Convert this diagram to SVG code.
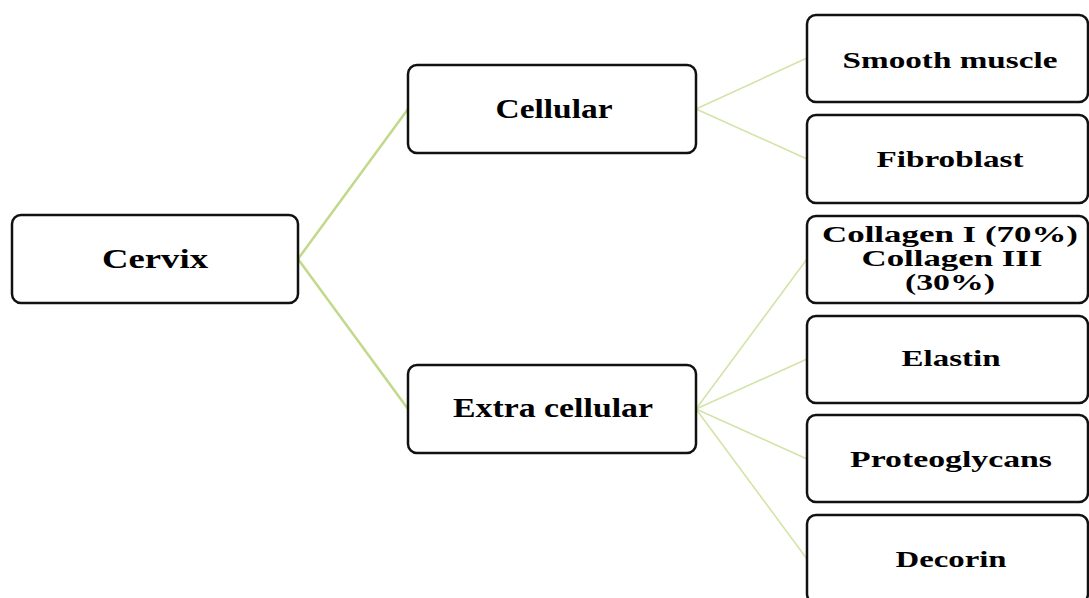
<svg xmlns="http://www.w3.org/2000/svg" width="1089" height="598" viewBox="0 0 1089 598">
<style>
.box{fill:#fff;stroke:#111;stroke-width:2.5}
.t{font-family:"Liberation Serif","Times New Roman",serif;font-weight:bold;fill:#000;text-anchor:middle}
.big{font-size:27px}
.sm{font-size:23px}
.c1{stroke:#c2d98a;stroke-width:2.5;fill:none}
.c2{stroke:#d3e4a8;stroke-width:1.6;fill:none}
</style>
<rect width="1089" height="598" fill="#fff"/>
<g id="connectors">
<line class="c1" x1="298" y1="259" x2="408" y2="109"/>
<line class="c1" x1="298" y1="259" x2="408" y2="409"/>
<line class="c2" x1="696" y1="109" x2="807" y2="58"/>
<line class="c2" x1="696" y1="109" x2="807" y2="159"/>
<line class="c2" x1="696" y1="409" x2="807" y2="259"/>
<line class="c2" x1="696" y1="409" x2="807" y2="359"/>
<line class="c2" x1="696" y1="409" x2="807" y2="459"/>
<line class="c2" x1="696" y1="409" x2="807" y2="559"/>
</g>
<g id="cervix"><rect class="box" x="12" y="215" width="286" height="88" rx="9"/><text class="t big" x="155" y="268" textLength="106" lengthAdjust="spacingAndGlyphs">Cervix</text></g>
<g id="cellular"><rect class="box" x="408" y="65" width="288" height="88" rx="9"/><text class="t big" x="554" y="118" textLength="117" lengthAdjust="spacingAndGlyphs">Cellular</text></g>
<g id="extracellular"><rect class="box" x="408" y="365" width="288" height="88" rx="9"/><text class="t big" x="553" y="417" textLength="200" lengthAdjust="spacingAndGlyphs">Extra cellular</text></g>
<g id="smooth"><rect class="box" x="807" y="15" width="281" height="87" rx="9"/><text class="t sm" x="950" y="68" textLength="215" lengthAdjust="spacingAndGlyphs">Smooth muscle</text></g>
<g id="fibroblast"><rect class="box" x="807" y="115" width="281" height="88" rx="9"/><text class="t sm" x="950" y="167" textLength="147" lengthAdjust="spacingAndGlyphs">Fibroblast</text></g>
<g id="collagen"><rect class="box" x="807" y="216" width="281" height="87" rx="9"/>
<text class="t sm" x="950" y="242" textLength="256" lengthAdjust="spacingAndGlyphs">Collagen I (70%)</text>
<text class="t sm" x="952" y="266" textLength="181" lengthAdjust="spacingAndGlyphs">Collagen III</text>
<text class="t sm" x="950" y="290" textLength="90" lengthAdjust="spacingAndGlyphs">(30%)</text></g>
<g id="elastin"><rect class="box" x="807" y="316" width="281" height="87" rx="9"/><text class="t sm" x="951" y="366" textLength="99" lengthAdjust="spacingAndGlyphs">Elastin</text></g>
<g id="proteoglycans"><rect class="box" x="807" y="415" width="281" height="87" rx="9"/><text class="t sm" x="951" y="467" textLength="202" lengthAdjust="spacingAndGlyphs">Proteoglycans</text></g>
<g id="decorin"><rect class="box" x="807" y="515" width="281" height="88" rx="9"/><text class="t sm" x="951" y="567" textLength="111" lengthAdjust="spacingAndGlyphs">Decorin</text></g>
</svg>
